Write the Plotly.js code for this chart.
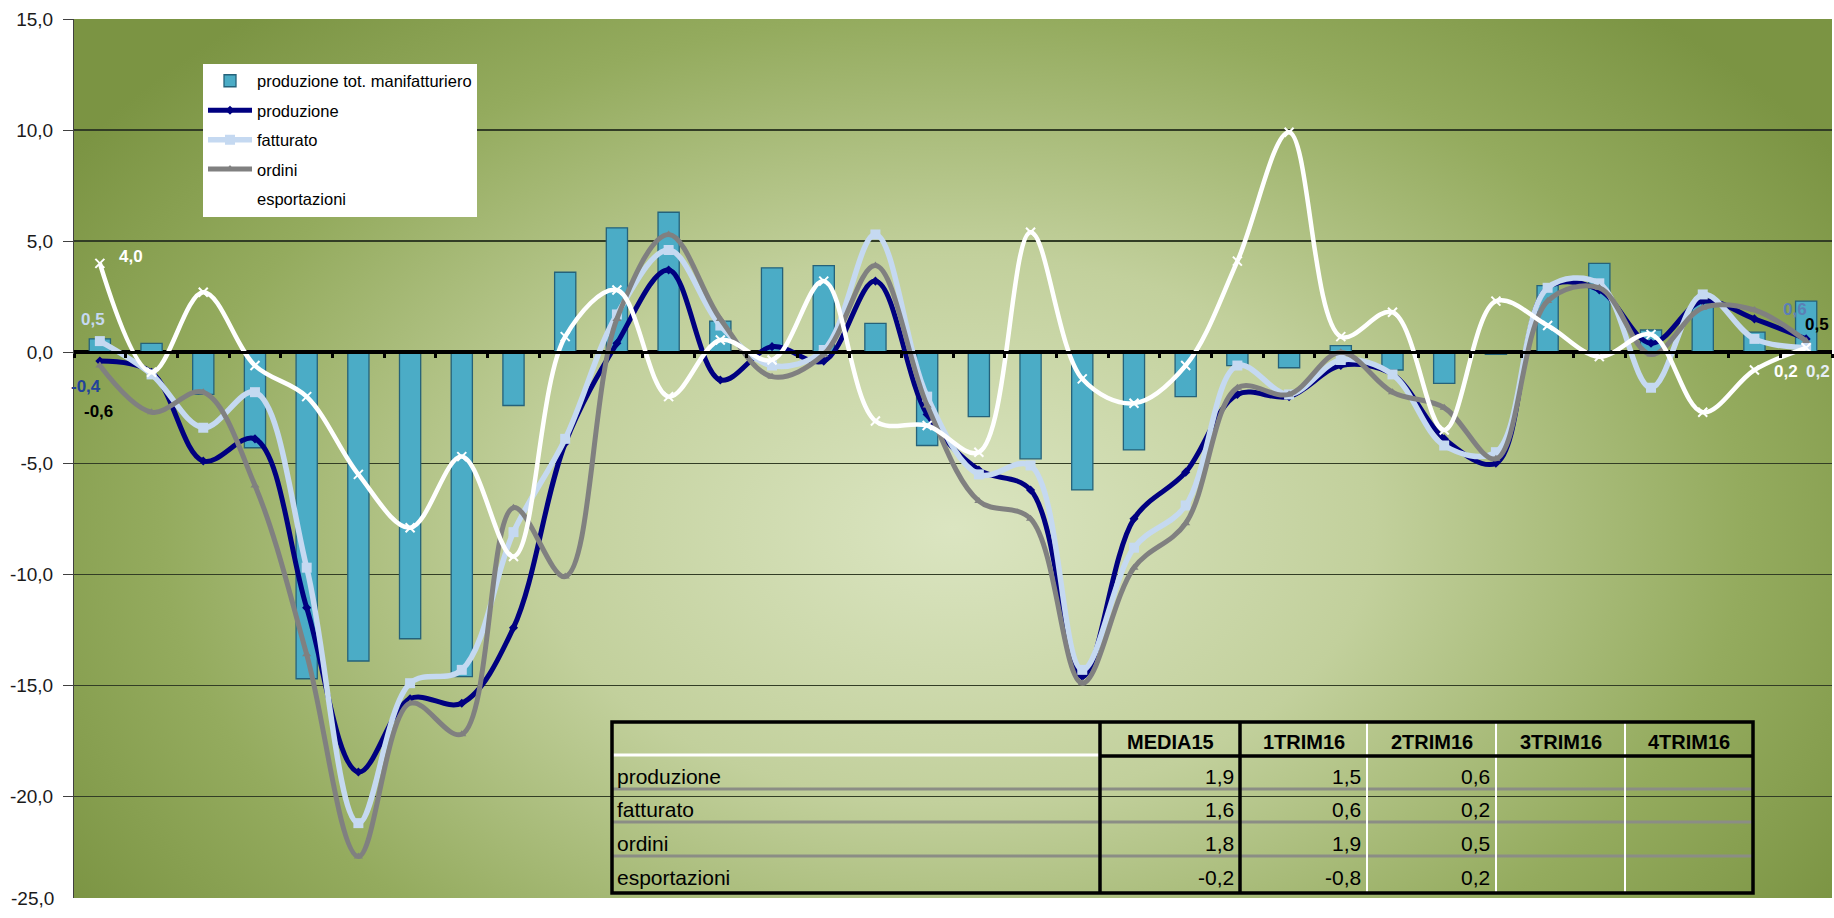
<!DOCTYPE html>
<html><head><meta charset="utf-8">
<script src="https://cdn.plot.ly/plotly-3.0.1.min.js"></script>
<style>html,body{margin:0;padding:0;background:#fff;} #chart{width:1834px;height:918px;}</style>
</head><body><div id="chart"></div>
<script>
// ---------- data ----------
const categories = ["1T08","2T08","3T08","4T08","1T09","2T09","3T09","4T09","1T10","2T10","3T10","4T10",
  "1T11","2T11","3T11","4T11","1T12","2T12","3T12","4T12","1T13","2T13","3T13","4T13",
  "1T14","2T14","3T14","4T14","1T15","2T15","3T15","4T15","1T16","2T16"];
const prodManifatturiero = [0.6,0.4,-1.9,-4.3,-14.7,-13.9,-12.9,-14.6,-2.4,3.6,5.6,6.3,1.4,3.8,3.9,1.3,-4.2,-2.9,-4.8,-6.2,-4.4,-2.0,-0.6,-0.7,0.3,-0.8,-1.4,-0.1,3.0,4.0,1.0,2.2,0.9,2.3];
const produzione = [-0.4,-0.9,-4.9,-3.9,-11.5,-18.9,-15.6,-15.8,-12.4,-4.1,0.4,3.7,-1.25,0.25,-0.4,3.2,-2.8,-5.3,-6.2,-14.6,-7.5,-5.4,-1.9,-2.0,-0.6,-1.0,-3.9,-5.0,2.9,2.8,0.4,2.3,1.5,0.6];
const fatturato = [0.5,-1.0,-3.4,-1.8,-9.7,-21.2,-14.9,-14.3,-8.1,-3.9,1.7,4.6,1.2,-0.6,0.1,5.3,-2.0,-5.5,-5.1,-14.3,-8.8,-6.9,-0.6,-1.9,-0.35,-1.0,-4.2,-4.5,2.9,3.1,-1.6,2.6,0.6,0.2];
const ordini = [-0.6,-2.7,-1.8,-6.0,-13.6,-22.7,-15.8,-17.2,-7.0,-10.1,1.5,5.3,1.5,-1.1,-0.1,3.9,-2.4,-6.7,-7.5,-14.9,-9.7,-7.7,-1.6,-1.9,0.0,-1.8,-2.5,-4.8,2.3,2.9,-0.1,2.0,1.9,0.5];
const esportazioni = [4.0,-0.9,2.7,-0.6,-2.0,-5.5,-7.9,-4.7,-9.2,0.7,2.8,-2.0,0.55,-0.35,3.2,-3.1,-3.3,-4.5,5.4,-1.2,-2.3,-0.6,4.1,9.9,0.7,1.8,-3.5,2.3,1.2,-0.2,0.8,-2.7,-0.8,0.2];

const yTickVals = [-20,-15,-10,-5,0,5,10,15];
const yTickLabels = ["-20,0","-15,0","-10,0","-5,0","0,0","5,0","10,0","15,0"];
const yBottomLabel = "-25,0";

const tableHeaders = ["MEDIA15","1TRIM16","2TRIM16","3TRIM16","4TRIM16"];
const tableRows = ["produzione","fatturato","ordini","esportazioni"];
const tableMedia15 = [1.9,1.6,1.8,-0.2];
const table1Trim16 = [1.5,0.6,1.9,-0.8];
const table2Trim16 = [0.6,0.2,0.5,0.2];
const table3Trim16 = [null,null,null,null];
const table4Trim16 = [null,null,null,null];

// ---------- layout geometry ----------
const W=1834, H=918, L=74, R=2, T=19, B=20;
const PW=W-L-R, PH=H-T-B;
const yMin=-24.57, yMax=15;
const px = x => (x-L)/PW;
const py = y => 1-(y-T)/PH;
const fmt = v => (v===null||v===undefined) ? "" : v.toFixed(1).replace('.',',');

function makeBg(){
  const c=document.createElement('canvas'); c.width=PW; c.height=PH;
  const g=c.getContext('2d');
  const cx=0.5*PW, cy=0.58*PH, rx=0.6*PW, ry=0.78*PH;
  g.save(); g.translate(cx,cy); g.scale(rx,ry);
  const gr=g.createRadialGradient(0,0,0,0,0,1);
  gr.addColorStop(0,'#dbe5c1'); gr.addColorStop(0.4,'#c2d09c');
  gr.addColorStop(0.75,'#94ab5e'); gr.addColorStop(1,'#7b9443');
  g.fillStyle=gr; g.fillRect(-cx/rx,-cy/ry,PW/rx,PH/ry); g.restore();
  return c.toDataURL('image/png');
}

const FONT='"Liberation Sans", Arial, sans-serif';

const traces = [
  {type:'bar', x:categories, y:prodManifatturiero, name:'produzione tot. manifatturiero', legendgroup:'g0',
   marker:{color:'#4bacc6', line:{color:'#25627a', width:1.3}}},
  {type:'scatter', mode:'lines+markers', x:categories, y:produzione, name:'produzione', legendgroup:'g1',
   line:{color:'#000080', width:5, shape:'spline', smoothing:1}, marker:{symbol:'diamond', size:7, color:'#000080'}},
  {type:'scatter', mode:'lines+markers', x:categories, y:fatturato, name:'fatturato', legendgroup:'g2',
   line:{color:'#c5d9f1', width:5.5, shape:'spline', smoothing:1}, marker:{symbol:'square', size:10, color:'#c5d9f1'}},
  {type:'scatter', mode:'lines+markers', x:categories, y:ordini, name:'ordini', legendgroup:'g3',
   line:{color:'#808080', width:5, shape:'spline', smoothing:1}, marker:{symbol:'triangle-up', size:8, color:'#808080'}},
  {type:'scatter', mode:'lines+markers', x:categories, y:esportazioni, name:'esportazioni', legendgroup:'g4',
   line:{color:'#ffffff', width:4.5, shape:'spline', smoothing:1}, marker:{symbol:'x-thin', size:9, color:'#ffffff', line:{color:'#ffffff', width:2}}}
];

// data labels (first and last points)
const last = categories.length-1;
const labels = [
  {x:categories[0], y:fatturato[0], text:fmt(fatturato[0]), dx:-7, dy:22, color:'#c6d9f1'},
  {x:categories[0], y:produzione[0], text:fmt(produzione[0]), dx:-14, dy:-25, color:'#22439a'},
  {x:categories[0], y:ordini[0], text:fmt(ordini[0]), dx:-1, dy:-46, color:'#000000'},
  {x:categories[0], y:esportazioni[0], text:fmt(esportazioni[0]), dx:31, dy:7, color:'#ffffff'},
  {x:categories[last], y:produzione[last], text:fmt(produzione[last]), dx:-11, dy:29, color:'#5b7fb5'},
  {x:categories[last], y:ordini[last], text:fmt(ordini[last]), dx:11, dy:17, color:'#000000'},
  {x:categories[last], y:esportazioni[last], text:fmt(esportazioni[last]), dx:-20, dy:-24, color:'#ffffff'},
  {x:categories[last], y:fatturato[last], text:fmt(fatturato[last]), dx:12, dy:-24, color:'#e6edf6'}
];
const annotations = labels.map(l=>({x:l.x, y:l.y, xref:'x', yref:'y', text:l.text, showarrow:false,
  xshift:l.dx, yshift:l.dy, font:{family:FONT, size:17, color:l.color, weight:'bold'}}));

annotations.push({xref:'paper', yref:'paper', x:px(56), y:0, xanchor:'right', yanchor:'middle',
  text:yBottomLabel, showarrow:false, font:{family:FONT, size:19, color:'#1a1a1a'}});

// ---------- table ----------
const colEdges=[612,1100,1240,1367,1496,1625,1753];
const tTop=722, tBot=893, headBot=756, rowLines=[789,822,856];
const rowCenters=[776,809,843,877];
const TFONT='"Liberation Sans", Arial, sans-serif';
const shapes=[];
rowLines.forEach(y=>shapes.push({type:'line', xref:'paper', yref:'paper', x0:px(613), x1:px(1752), y0:py(y), y1:py(y), line:{color:'#8b8d85', width:3}}));
[3,4,5].forEach(k=>shapes.push({type:'line', xref:'paper', yref:'paper', x0:px(colEdges[k]), x1:px(colEdges[k]), y0:py(tTop), y1:py(tBot), line:{color:'#ffffff', width:2}}));
shapes.push({type:'line', xref:'paper', yref:'paper', x0:px(613), x1:px(colEdges[1]), y0:py(headBot-1), y1:py(headBot-1), line:{color:'#ffffff', width:3}});
shapes.push({type:'line', xref:'paper', yref:'paper', x0:px(colEdges[1]), x1:px(1753), y0:py(headBot), y1:py(headBot), line:{color:'#000000', width:3.5}});
[1,2].forEach(k=>shapes.push({type:'line', xref:'paper', yref:'paper', x0:px(colEdges[k]), x1:px(colEdges[k]), y0:py(tTop), y1:py(tBot), line:{color:'#000000', width:3.5}}));
shapes.push({type:'rect', xref:'paper', yref:'paper', x0:px(612), x1:px(1753), y0:py(tTop), y1:py(tBot), line:{color:'#000000', width:3.5}});

tableHeaders.forEach((h,k)=>annotations.push({xref:'paper', yref:'paper', x:px((colEdges[k+1]+colEdges[k+2])/2), y:py(742),
  xanchor:'center', yanchor:'middle', text:h, showarrow:false, font:{family:TFONT, size:20, color:'#000', weight:'bold'}}));
const tableCols=[tableMedia15, table1Trim16, table2Trim16, table3Trim16, table4Trim16];
tableRows.forEach((r,i)=>{
  annotations.push({xref:'paper', yref:'paper', x:px(615), y:py(rowCenters[i]), xanchor:'left', yanchor:'middle',
    text:r, showarrow:false, font:{family:TFONT, size:21, color:'#000'}});
  tableCols.forEach((col,k)=>{
    const t=fmt(col[i]); if(!t) return;
    annotations.push({xref:'paper', yref:'paper', x:px(colEdges[k+2]-4), y:py(rowCenters[i]), xanchor:'right', yanchor:'middle',
      text:t, showarrow:false, font:{family:TFONT, size:21, color:'#000'}});
  });
});

const layout = {
  width:W, height:H, margin:{l:L, r:R, t:T, b:B},
  paper_bgcolor:'#ffffff', plot_bgcolor:'#7b9443',
  showlegend:true, bargap:0.59,
  legend:{x:px(203), y:py(63.5), xanchor:'left', yanchor:'top', bgcolor:'#ffffff', borderwidth:0,
    font:{family:FONT, size:16.5, color:'#000'}, traceorder:'grouped', tracegroupgap:5, itemwidth:44},
  xaxis:{type:'category', range:[-0.5, categories.length-0.5], anchor:'free', position:(0-yMin)/(yMax-yMin),
    showline:true, linecolor:'#000', linewidth:3, ticks:'outside', tickson:'boundaries', ticklen:4, tickwidth:3, tickcolor:'#000',
    showticklabels:false, showgrid:false, zeroline:false, fixedrange:true},
  yaxis:{range:[yMin,yMax], tickvals:yTickVals, ticktext:yTickLabels, showgrid:true, gridcolor:'#323d25', gridwidth:1.3,
    zeroline:true, zerolinecolor:'#000', zerolinewidth:3.5, showline:true, linecolor:'#404040', linewidth:1,
    ticks:'outside', ticklen:10, tickcolor:'#404040', ticklabelstandoff:6,
    tickfont:{family:FONT, size:19, color:'#1a1a1a'}, fixedrange:true},
  images:[{source:makeBg(), xref:'paper', yref:'paper', x:0, y:1, sizex:1, sizey:1, sizing:'stretch', layer:'below', xanchor:'left', yanchor:'top'}],
  shapes:shapes, annotations:annotations
};
Plotly.newPlot('chart', traces, layout, {staticPlot:true, displayModeBar:false});
</script></body></html>
